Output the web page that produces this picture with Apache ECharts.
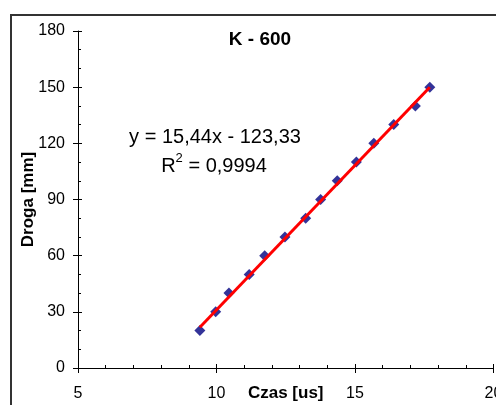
<!DOCTYPE html>
<html lang="pl">
<head>
    <meta charset="UTF-8">
    <title>K - 600</title>
    <script type="text/javascript" src="https://cdn.jsdelivr.net/npm/echarts@6/dist/echarts.min.js"></script>
    <style>
        html, body { margin: 0; padding: 0; background: #fff; }
    </style>
</head>
<body>
    <div id="main" style="width: 496px;height:405px;"></div>
    <script type="text/javascript">
        // pomiary: czas [us] i droga [mm]
        var czas = [9.40, 9.97, 10.45, 11.18, 11.74, 12.47, 13.22, 13.76, 14.36, 15.05, 15.68, 16.40, 17.18, 17.70];
        var droga = [20, 30, 40, 50, 60, 70, 80, 90, 100, 110, 120, 130, 140, 150];

        // linia trendu z Excela
        var nachylenie = 15.44;
        var wyraz = -123.33;
        var rownanie = 'y = 15,44x - 123,33';
        var r2 = '0,9994';

        var punkty = [];
        for (var i = 0; i < czas.length; i++) {
            punkty.push([czas[i], droga[i]]);
        }
        var xMin = Math.min.apply(null, czas);
        var xMax = Math.max.apply(null, czas);
        var trend = [
            [xMin, nachylenie * xMin + wyraz],
            [xMax, nachylenie * xMax + wyraz]
        ];

        var myChart = echarts.init(document.getElementById('main'));

        var font = 'Arial, "Liberation Sans", sans-serif';
        var osX = {
            type: 'value', min: 5, max: 20, interval: 5, position: 'bottom'
        };
        var osY = {
            type: 'value', min: 0, max: 180, interval: 30, position: 'left'
        };

        var option = {
            animation: false,
            backgroundColor: '#fff',
            grid: { left: 78, top: 31, width: 415.5, height: 337, containLabel: false, outerBoundsMode: 'none' },
            xAxis: [
                Object.assign({}, osX, {
                    name: 'Czas [us]',
                    nameLocation: 'middle',
                    nameGap: 17,
                    nameMoveOverlap: false,
                    nameTextStyle: { fontFamily: font, fontSize: 17, fontWeight: 'bold', color: '#000' },
                    axisLine: { lineStyle: { color: '#000', width: 1 } },
                    axisTick: { inside: false, length: 5, lineStyle: { color: '#000' } },
                    axisLabel: { margin: 18, fontFamily: font, fontSize: 16, color: '#000', showMaxLabel: true },
                    splitLine: { show: false }
                }),
                Object.assign({}, osX, {
                    axisLine: { show: false },
                    axisTick: { inside: true, length: 4, lineStyle: { color: '#000' } },
                    minorTick: { show: true, splitNumber: 5, length: 3, lineStyle: { color: '#000' } },
                    axisLabel: { show: false },
                    splitLine: { show: false }
                })
            ],
            yAxis: [
                Object.assign({}, osY, {
                    name: 'Droga [mm]',
                    nameLocation: 'middle',
                    nameGap: 41,
                    nameRotate: 90,
                    nameMoveOverlap: false,
                    nameTextStyle: { fontFamily: font, fontSize: 17, fontWeight: 'bold', color: '#000' },
                    axisLine: { lineStyle: { color: '#000', width: 1 } },
                    axisTick: { inside: false, length: 5, lineStyle: { color: '#000' } },
                    axisLabel: { margin: 13, fontFamily: font, fontSize: 16, color: '#000' },
                    splitLine: { show: false }
                }),
                Object.assign({}, osY, {
                    axisLine: { show: false },
                    axisTick: { inside: true, length: 4, lineStyle: { color: '#000' } },
                    minorTick: { show: true, splitNumber: 3, length: 3, lineStyle: { color: '#000' } },
                    axisLabel: { show: false },
                    splitLine: { show: false }
                })
            ],
            graphic: [
                {
                    type: 'rect', silent: true, z: 0,
                    shape: { x: 11, y: 15, width: 700, height: 600 },
                    style: { fill: 'none', stroke: '#333', lineWidth: 2 }
                },
                {
                    type: 'text', silent: true,
                    x: 260, y: 40,
                    style: {
                        text: 'K - 600', align: 'center', verticalAlign: 'middle',
                        font: 'bold 19px ' + font, fill: '#000'
                    }
                },
                {
                    type: 'text', silent: true,
                    x: 215, y: 137,
                    style: {
                        text: rownanie, align: 'center', verticalAlign: 'middle',
                        font: '20px ' + font, fill: '#000'
                    }
                },
                {
                    type: 'text', silent: true,
                    x: 214, y: 164,
                    style: {
                        text: '{n|R}{s|2}{n| = ' + r2 + '}',
                        align: 'center', verticalAlign: 'middle',
                        rich: {
                            n: { fontFamily: font, fontSize: 20, color: '#000', lineHeight: 24, verticalAlign: 'bottom' },
                            s: { fontFamily: font, fontSize: 13, color: '#000', lineHeight: 24, verticalAlign: 'top' }
                        }
                    }
                }
            ],
            series: [
                {
                    name: 'K - 600',
                    type: 'scatter',
                    xAxisIndex: 0,
                    yAxisIndex: 0,
                    symbol: 'diamond',
                    symbolSize: 11,
                    itemStyle: { color: '#000080' },
                    data: punkty,
                    z: 2
                },
                {
                    name: 'Trend',
                    type: 'line',
                    xAxisIndex: 0,
                    yAxisIndex: 0,
                    showSymbol: false,
                    lineStyle: { color: '#ff0000', width: 3 },
                    data: trend,
                    z: 3
                }
            ]
        };

        myChart.setOption(option);
    </script>
</body>
</html>
